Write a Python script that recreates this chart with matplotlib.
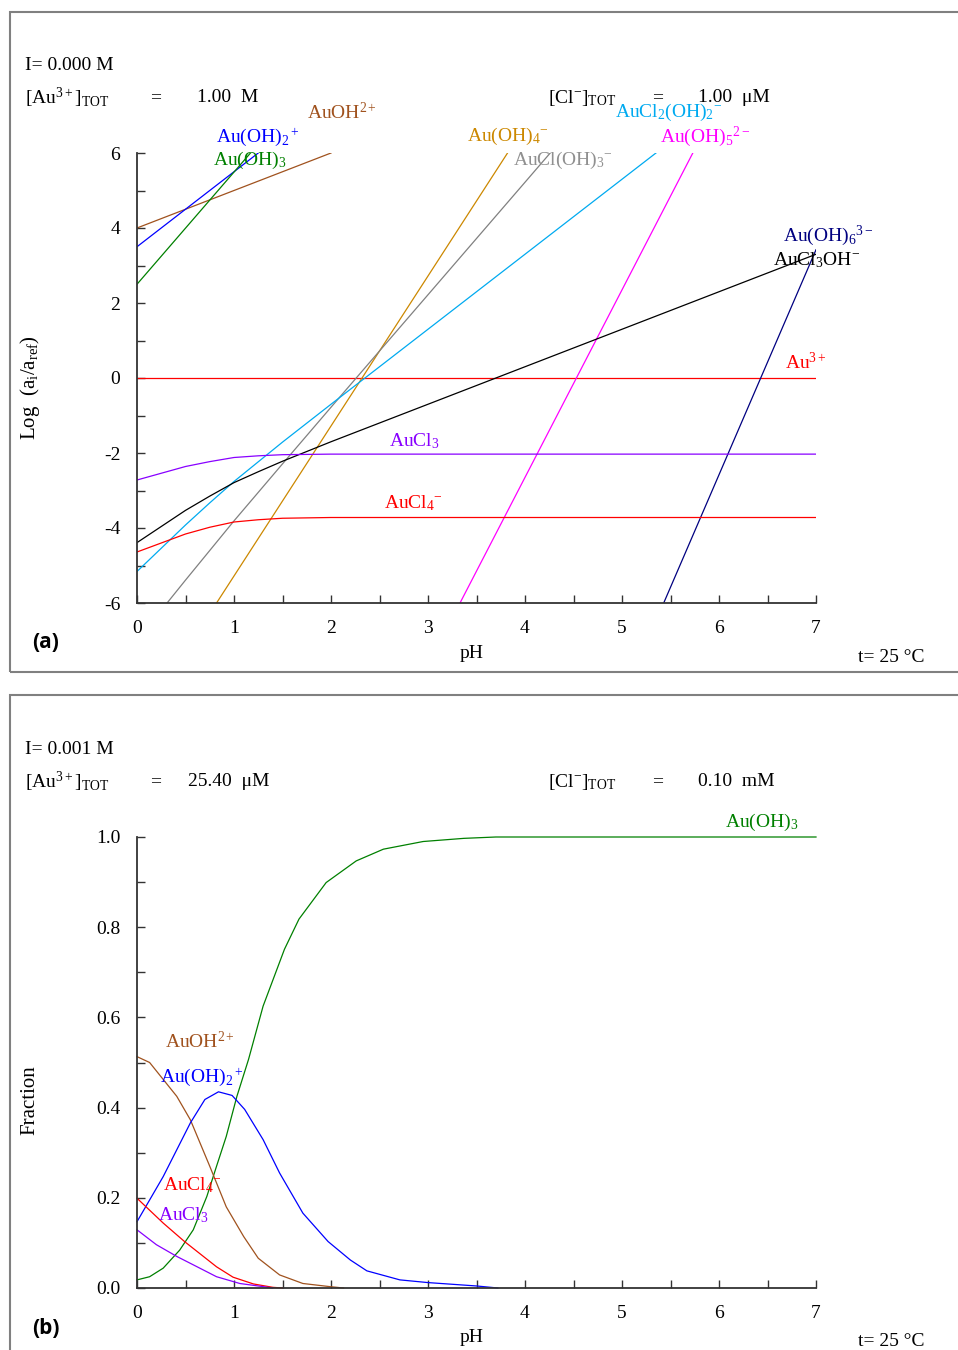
import numpy as np
import matplotlib.pyplot as plt
from matplotlib.patches import Rectangle
from matplotlib.ticker import MultipleLocator

plt.rcParams['font.family'] = ['Liberation Serif', 'DejaVu Serif']
plt.rcParams['mathtext.fontset'] = 'custom'
plt.rcParams['mathtext.rm'] = 'Liberation Serif'
plt.rcParams['mathtext.it'] = 'Liberation Serif:italic'
plt.rcParams['axes.unicode_minus'] = False

# ---- panel (a): log activity vs pH ----
ph_au3 = [0, 7]
log_au3 = [0, 0]
ph_auoh = [0, 2.0]
log_auoh = [4.0, 6.0]
ph_auoh2 = [0, 1.25]
log_auoh2 = [3.5, 6.0]
ph_auoh3 = [0, 1.17]
log_auoh3 = [2.5, 6.0]
ph_auoh4 = [0.82, 3.82]
log_auoh4 = [-6.0, 6.0]
ph_auoh5 = [3.33, 5.73]
log_auoh5 = [-6.0, 6.0]
ph_auoh6 = [5.43, 7.0]
log_auoh6 = [-6.0, 3.42]
ph_cl = [0, 0.25, 0.5, 0.75, 1.0, 1.25, 1.5, 2.0, 7.0]
log_aucl3 = [-2.72, -2.54, -2.36, -2.23, -2.12, -2.075, -2.045, -2.03, -2.03]
log_aucl4 = [-4.64, -4.40, -4.16, -3.98, -3.84, -3.78, -3.74, -3.72, -3.72]
log_aucl3oh = [-4.39, -3.96, -3.53, -3.15, -2.79, -2.50, -2.22, -1.70, 3.30]
ph_aucl2oh2 = [0, 0.25, 0.5, 0.75, 1.0, 1.5, 2.0, 5.35]
log_aucl2oh2 = [-5.16, -4.54, -3.92, -3.33, -2.76, -1.71, -0.70, 6.0]
ph_auclo3 = [0.31, 0.5, 0.75, 1.0, 1.5, 2.0, 4.26]
log_auclo3 = [-6.0, -5.39, -4.60, -3.81, -2.29, -0.78, 6.0]

# ---- panel (b): fractions vs pH ----
ph_f_auoh3 = [0, 0.13, 0.27, 0.44, 0.58, 0.72, 0.82, 0.92, 1.03, 1.15, 1.3,
              1.52, 1.67, 1.95, 2.26, 2.54, 2.95, 3.37, 3.7, 7.0]
f_auoh3 = [0.018, 0.025, 0.044, 0.084, 0.129, 0.203, 0.27, 0.336, 0.425, 0.507,
           0.625, 0.751, 0.818, 0.899, 0.947, 0.973, 0.99, 0.997, 1.0, 1.0]
ph_f_auoh = [0, 0.13, 0.41, 0.55, 0.75, 0.92, 1.10, 1.25, 1.47, 1.71, 1.99, 2.13]
f_auoh = [0.513, 0.50, 0.425, 0.373, 0.27, 0.18, 0.114, 0.066, 0.029, 0.010, 0.003, 0.0]
ph_f_auoh2 = [0, 0.27, 0.55, 0.70, 0.84, 0.98, 1.11, 1.30, 1.47, 1.71, 1.97,
              2.2, 2.37, 2.71, 3.0, 3.5, 3.72]
f_auoh2 = [0.147, 0.247, 0.366, 0.418, 0.435, 0.427, 0.396, 0.329, 0.255, 0.166,
           0.103, 0.062, 0.038, 0.018, 0.012, 0.0045, 0.0]
ph_f_aucl4 = [0, 0.27, 0.49, 0.82, 0.99, 1.2, 1.4, 1.5]
f_aucl4 = [0.199, 0.144, 0.103, 0.047, 0.024, 0.009, 0.0015, 0.0]
ph_f_aucl3 = [0, 0.2, 0.41, 0.62, 0.82, 1.06, 1.3, 1.4]
f_aucl3 = [0.129, 0.096, 0.07, 0.047, 0.025, 0.010, 0.003, 0.0]

W, H = 958, 1350
fig = plt.figure(figsize=(W / 100, H / 100), dpi=100)


def ftext(x, y, s, **kw):
    kw.setdefault('fontsize', 14)
    kw.setdefault('va', 'center')
    fig.text(x / W, 1 - y / H, s, **kw)


# panel frames
fig.patches.append(Rectangle((10 / W, 1 - 672 / H), 1.0, (672 - 12) / H, fill=False,
                             edgecolor='#808080', lw=1.5, transform=fig.transFigure))
fig.patches.append(Rectangle((10 / W, -0.05), 1.0, 0.05 + (1350 - 695) / H, fill=False,
                             edgecolor='#808080', lw=1.5, transform=fig.transFigure))

ax1 = fig.add_axes([137 / W, 1 - 603 / H, (816 - 137) / W, (603 - 153) / H])
ax2 = fig.add_axes([137 / W, 1 - 1288 / H, (816 - 137) / W, (1288 - 837) / H])

for ax in (ax1, ax2):
    ax.spines['top'].set_visible(False)
    ax.spines['right'].set_visible(False)
    for s in ('left', 'bottom'):
        ax.spines[s].set_color('#333333')
        ax.spines[s].set_linewidth(1.3)
    ax.set_xlim(0, 7)
    ax.xaxis.set_major_locator(MultipleLocator(1))
    ax.xaxis.set_minor_locator(MultipleLocator(0.5))
    ax.tick_params(which='both', direction='in', length=6, width=1, colors='#333333',
                   labelcolor='black', labelsize=14)
    ax.tick_params(axis='x', which='both', pad=12)
    ax.tick_params(axis='y', which='both', pad=12)

lw = 0.9
ax1.plot(ph_au3, log_au3, color='#ff0000', lw=lw)
ax1.plot(ph_auoh, log_auoh, color='#a0521e', lw=lw)
ax1.plot(ph_auoh2, log_auoh2, color='#0000ff', lw=lw)
ax1.plot(ph_auoh3, log_auoh3, color='#008000', lw=lw)
ax1.plot(ph_auoh4, log_auoh4, color='#cc8800', lw=lw)
ax1.plot(ph_auclo3, log_auclo3, color='#808080', lw=lw)
ax1.plot(ph_aucl2oh2, log_aucl2oh2, color='#00aaf0', lw=lw)
ax1.plot(ph_auoh5, log_auoh5, color='#ff00ff', lw=lw)
ax1.plot(ph_auoh6, log_auoh6, color='#000080', lw=lw)
ax1.plot(ph_cl, log_aucl3oh, color='black', lw=lw)
ax1.plot(ph_cl, log_aucl3, color='#8800ff', lw=lw)
ax1.plot(ph_cl, log_aucl4, color='#ff0000', lw=lw)
ax1.set_ylim(-6, 6)
ax1.yaxis.set_major_locator(MultipleLocator(2))
ax1.yaxis.set_minor_locator(MultipleLocator(1))

labels_a = [
    (1.75, 7.07, r'$\mathrm{AuOH^{2+}}$', '#a0521e'),
    (0.81, 6.43, r'$\mathrm{Au(OH)_2{}^+}$', '#0000ff'),
    (0.78, 5.79, r'$\mathrm{Au(OH)_3}$', '#008000'),
    (3.40, 6.43, r'$\mathrm{Au(OH)_4{}^{-}}$', '#cc8800'),
    (3.88, 5.79, r'$\mathrm{AuCl(OH)_3{}^{-}}$', '#909090'),
    (4.93, 7.07, r'$\mathrm{AuCl_2(OH)_2{}^{-}}$', '#00aaf0'),
    (5.39, 6.43, r'$\mathrm{Au(OH)_5{}^{2-}}$', '#ff00ff'),
    (6.66, 3.79, r'$\mathrm{Au(OH)_6{}^{3-}}$', '#000080'),
    (6.56, 3.15, r'$\mathrm{AuCl_3OH^{-}}$', 'black'),
    (6.68, 0.40, r'$\mathrm{Au^{3+}}$', '#ff0000'),
    (2.60, -1.68, r'$\mathrm{AuCl_3}$', '#8800ff'),
    (2.55, -3.33, r'$\mathrm{AuCl_4{}^{-}}$', '#ff0000'),
]
for x, y, s, c in labels_a:
    ax1.text(x, y, s, color=c, fontsize=14, va='center', ha='left', clip_on=False)

ax2.plot(ph_f_auoh3, f_auoh3, color='#008000', lw=lw, clip_on=False)
ax2.plot(ph_f_auoh, f_auoh, color='#a0521e', lw=lw, clip_on=False)
ax2.plot(ph_f_auoh2, f_auoh2, color='#0000ff', lw=lw, clip_on=False)
ax2.plot(ph_f_aucl4, f_aucl4, color='#ff0000', lw=lw, clip_on=False)
ax2.plot(ph_f_aucl3, f_aucl3, color='#8800ff', lw=lw, clip_on=False)
ax2.set_ylim(0, 1.0)
ax2.yaxis.set_major_locator(MultipleLocator(0.2))
ax2.yaxis.set_minor_locator(MultipleLocator(0.1))
ax2.yaxis.set_major_formatter(plt.FormatStrFormatter('%.1f'))

labels_b = [
    (6.06, 1.033, r'$\mathrm{Au(OH)_3}$', '#008000'),
    (0.29, 0.547, r'$\mathrm{AuOH^{2+}}$', '#a0521e'),
    (0.24, 0.467, r'$\mathrm{Au(OH)_2{}^+}$', '#0000ff'),
    (0.27, 0.229, r'$\mathrm{AuCl_4{}^{-}}$', '#ff0000'),
    (0.22, 0.162, r'$\mathrm{AuCl_3}$', '#8800ff'),
]
for x, y, s, c in labels_b:
    ax2.text(x, y, s, color=c, fontsize=14, va='center', ha='left', clip_on=False)

# header texts: name, '=' and value placed as in the reference
headers = [
    (66, 'I= 0.000 M', None, None, None, None),
    (98, r'[Au$^{3+}$]$_{\mathrm{TOT}}$', '1.00  M', 197, r'[Cl$^{-}$]$_{\mathrm{TOT}}$', '1.00  μM'),
    (750, 'I= 0.001 M', None, None, None, None),
    (782, r'[Au$^{3+}$]$_{\mathrm{TOT}}$', '25.40  μM', 188, r'[Cl$^{-}$]$_{\mathrm{TOT}}$', '0.10  mM'),
]
for y, name, val, xval, clname, clval in headers:
    ftext(25, y, name)
    if val is None:
        continue
    ftext(150, y, '=')
    ftext(xval, y, val)
    ftext(548, y, clname)
    ftext(652, y, '=')
    ftext(698, y, clval)

for yb in (654, 1338):
    ftext(472, yb, 'pH', ha='center')
for yt in (658, 1342):
    ftext(858, yt, 't= 25 °C')

ftext(32, 643, '(a)', family=['Open Sans', 'DejaVu Sans'], fontweight='bold', fontsize=15)
ftext(32, 1328, '(b)', family=['Open Sans', 'DejaVu Sans'], fontweight='bold', fontsize=15)

ftext(30, 388, r'Log  (a$_\mathrm{i}$/a$_\mathrm{ref}$)', rotation=90, ha='center', fontsize=15)
ftext(30, 1100, 'Fraction', rotation=90, ha='center', fontsize=15)

fig.savefig('out.png', dpi=100)
